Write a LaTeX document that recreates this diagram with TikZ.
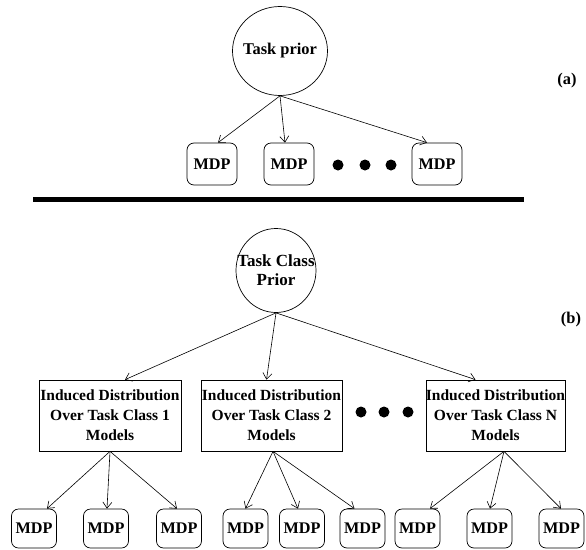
\documentclass[tikz,border=0pt]{standalone}
\usepackage{fontspec}
\setmainfont{Liberation Serif}
\usetikzlibrary{shapes.geometric,arrows.meta}
\begin{document}
\begin{tikzpicture}[x=1pt,y=-1pt,
  txt/.style={font=\fontsize{15.5}{20}\selectfont\bfseries,inner sep=0pt},
  prior/.style={txt,draw,ellipse,line width=0.7pt,align=center},
  mdpbox/.style={txt,font=\fontsize{16.2}{20}\selectfont\bfseries,draw,rounded corners=7pt,line width=0.7pt},
  mdptop/.style={mdpbox,minimum width=50pt,minimum height=42pt},
  mdpbot/.style={mdpbox,minimum width=45pt,minimum height=39pt},
  classbox/.style={txt,draw,line width=0.7pt,align=center,minimum height=71pt},
  dotnode/.style={circle,fill=black,inner sep=0pt,minimum size=11pt},
  arr/.style={-{Straight Barb[length=6pt,width=9pt]},line width=0.6pt}]
\useasboundingbox (0,0) rectangle (586,549);
% ---------- (a) ----------
\node[prior,font=\fontsize{16.4}{20}\selectfont\bfseries,inner xsep=-4.5pt,minimum width=95pt,minimum height=89pt] (tp) at (280,51) {Task prior};
\node[mdptop] (m1) at (212,164) {MDP};
\node[mdptop] (m2) at (289,164) {MDP};
\node[mdptop] (m3) at (437,164) {MDP};
\node[dotnode] (ta) at (338,165) {};
\node[dotnode] (tb) at (365,165) {};
\node[dotnode] (tc) at (391,165) {};
\draw[arr] (tp.south) -- ([xshift=6pt]m1.north);
\draw[arr] (tp.south) -- ([xshift=-4pt]m2.north);
\draw[arr] (tp.south) -- ([xshift=-10pt]m3.north);
\node[txt,font=\fontsize{16.4}{20}\selectfont\bfseries] (la) at (567,81) {(a)};
% ---------- separator ----------
\coordinate (s1) at (33,199);
\coordinate (s2) at (524,199);
\draw[line width=5pt] (s1) -- (s2);
% ---------- (b) ----------
\node[prior,font=\fontsize{17}{19}\selectfont\bfseries,inner xsep=-12pt,inner ysep=0pt,minimum width=80pt,minimum height=84pt] (cp) at (276,270.5) {Task Class\\Prior};
\node[txt,font=\fontsize{16.4}{20}\selectfont\bfseries] (lb) at (571,320) {(b)};
\node[classbox,minimum width=142pt] (c1) at (110,415.5) {Induced Distribution\\Over Task Class 1\\Models};
\node[classbox,minimum width=141pt] (c2) at (271.5,415.5) {Induced Distribution\\Over Task Class 2\\Models};
\node[classbox,minimum width=137pt] (c3) at (495.5,415.5) {Induced Distribution\\Over Task Class N\\Models};
\node[dotnode] (ba) at (361,412) {};
\node[dotnode] (bb) at (384,412) {};
\node[dotnode] (bc) at (408,412) {};
\draw[arr] (cp.south) -- ([xshift=15pt]c1.north);
\draw[arr] (cp.south) -- ([xshift=-5pt]c2.north);
\draw[arr] (cp.south) -- ([xshift=-20pt]c3.north);
\node[mdpbot] (b1) at (34,528.5) {MDP};
\node[mdpbot] (b2) at (106,528.5) {MDP};
\node[mdpbot] (b3) at (179,528.5) {MDP};
\node[mdpbot] (b4) at (245.5,528.5) {MDP};
\node[mdpbot] (b5) at (302,528.5) {MDP};
\node[mdpbot] (b6) at (362.5,528.5) {MDP};
\node[mdpbot] (b7) at (417.5,528.5) {MDP};
\node[mdpbot] (b8) at (489.5,528.5) {MDP};
\node[mdpbot] (b9) at (561.5,528.5) {MDP};
\draw[arr] (c1.south) -- ([xshift=13pt]b1.north);
\draw[arr] (c1.south) -- ([xshift=1pt]b2.north);
\draw[arr] (c1.south) -- ([xshift=-2pt]b3.north);
\draw[arr] ([xshift=1.5pt]c2.south) -- ([xshift=0pt]b4.north);
\draw[arr] ([xshift=1.5pt]c2.south) -- ([xshift=-4pt]b5.north);
\draw[arr] ([xshift=1.5pt]c2.south) -- ([xshift=-8pt]b6.north);
\draw[arr] ([xshift=8.5pt]c3.south) -- ([xshift=12.5pt]b7.north);
\draw[arr] ([xshift=8.5pt]c3.south) -- ([xshift=0.5pt]b8.north);
\draw[arr] ([xshift=8.5pt]c3.south) -- ([xshift=-0.5pt]b9.north);
\end{tikzpicture}
\end{document}
